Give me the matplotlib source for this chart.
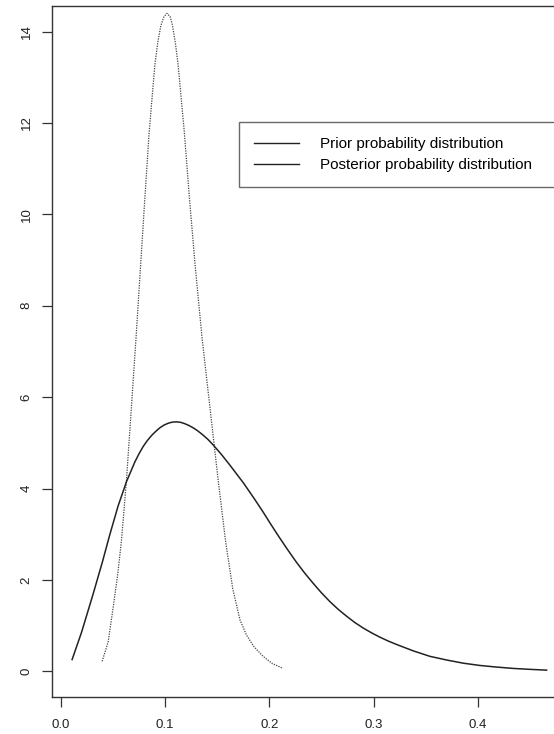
import matplotlib
matplotlib.use("Agg")
import matplotlib.pyplot as plt
from matplotlib.lines import Line2D

# values
prior_x = [0.0397, 0.0455, 0.0502, 0.0545, 0.0582, 0.0630, 0.0678, 0.0722,
           0.0765, 0.0806, 0.0848, 0.0902, 0.0930, 0.0960, 0.0990, 0.1020,
           0.1050, 0.1070, 0.1100, 0.1126, 0.1185, 0.1235, 0.1290, 0.1355,
           0.1430, 0.1510, 0.1580, 0.1650, 0.1720, 0.1780, 0.1850, 0.1940,
           0.2030, 0.2130]
prior_y = [0.22, 0.65, 1.39, 2.10, 2.86, 4.18, 5.79, 7.30,
           8.86, 10.33, 11.80, 13.26, 13.76, 14.13, 14.33, 14.40,
           14.32, 14.15, 13.74, 13.26, 11.80, 10.33, 8.86, 7.30,
           5.79, 4.18, 2.86, 1.80, 1.12, 0.80, 0.55, 0.33,
           0.17, 0.07]

post_x = [0.0109, 0.020, 0.031, 0.040, 0.047, 0.055, 0.063, 0.071, 0.075,
          0.079, 0.083, 0.087, 0.091, 0.095, 0.099, 0.103, 0.107, 0.111,
          0.115, 0.119, 0.123, 0.127, 0.131, 0.136, 0.141, 0.146, 0.154,
          0.162, 0.168, 0.175, 0.185, 0.194, 0.202, 0.210, 0.218, 0.226,
          0.234, 0.242, 0.250, 0.258, 0.266, 0.274, 0.282, 0.290, 0.298,
          0.306, 0.314, 0.322, 0.338, 0.354, 0.370, 0.386, 0.402, 0.418,
          0.434, 0.450, 0.466]
post_y = [0.26, 0.86, 1.69, 2.40, 2.99, 3.62, 4.15, 4.58, 4.76,
          4.92, 5.05, 5.16, 5.25, 5.33, 5.39, 5.43, 5.455, 5.46,
          5.45, 5.42, 5.38, 5.33, 5.27, 5.18, 5.08, 4.96, 4.75,
          4.52, 4.34, 4.13, 3.80, 3.49, 3.20, 2.92, 2.65, 2.39,
          2.15, 1.93, 1.72, 1.53, 1.36, 1.21, 1.07, 0.95, 0.845,
          0.75, 0.665, 0.59, 0.45, 0.33, 0.25, 0.18, 0.13, 0.095,
          0.065, 0.045, 0.028]

x_ticks = [0.0, 0.1, 0.2, 0.3, 0.4]
y_ticks = [0, 2, 4, 6, 8, 10, 12, 14]
labels = ["Prior probability distribution", "Posterior probability distribution"]

plt.rcParams["font.family"] = ["Liberation Sans", "DejaVu Sans"]

fig = plt.figure(figsize=(5.54, 7.34), dpi=100)
W, H = 554, 734
# the right side of the plot box is cut off in the reference
ax = fig.add_axes([52 / W, 1 - 697 / H, (570 - 52) / W, (697 - 6) / H])

ax.plot(prior_x, prior_y, color="#444444", linewidth=0.9, linestyle=(0, (1, 1)))
ax.plot(post_x, post_y, color="#222222", linewidth=1.1)

ax.set_xlim(-0.0084, 0.4884)
ax.set_ylim(-0.56, 14.56)
ax.set_xticks(x_ticks)
ax.set_xticklabels([f"{t:.1f}" for t in x_ticks])
ax.set_yticks(y_ticks)
ax.set_yticklabels([str(t) for t in y_ticks], rotation=90, va="center")

ax.tick_params(axis="both", direction="out", length=7.5, width=0.9,
               color="#333333", labelsize=9.5, labelcolor="#222222")
ax.tick_params(axis="x", pad=8)
ax.tick_params(axis="y", pad=6.5)
for s in ax.spines.values():
    s.set_color("#333333")
    s.set_linewidth(1.0)

# legend box runs past the right edge of the picture, like the reference
handles = [Line2D([], [], color="#222222", linewidth=1.0),
           Line2D([], [], color="#222222", linewidth=1.0)]
leg = fig.legend(handles, labels, loc="upper left", mode="expand",
                 bbox_to_anchor=(239 / W, 1 - 191 / H, 340 / W, 69 / H),
                 fontsize=11, frameon=True, fancybox=False,
                 borderpad=1.0, labelspacing=0.45, handlelength=2.9,
                 handletextpad=1.4, borderaxespad=0)
leg.get_frame().set_edgecolor("#444444")
leg.get_frame().set_linewidth(1.0)

fig.savefig("out.png", dpi=100)
